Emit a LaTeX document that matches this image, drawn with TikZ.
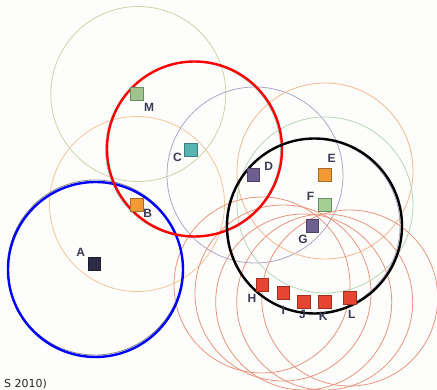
\documentclass[tikz,border=0pt]{standalone}
\usepackage{fontspec}
\setmainfont{Liberation Sans}
\newfontfamily\capfont{DejaVu Sans}
\definecolor{bg}{HTML}{FDFDFB}
\definecolor{cM}{HTML}{CDD4A8}
\definecolor{cB}{HTML}{F2C69A}
\definecolor{cD}{HTML}{AEA6C8}
\definecolor{cE}{HTML}{F3B890}
\definecolor{cF}{HTML}{B8D6B8}
\definecolor{cR}{HTML}{E9957E}
\definecolor{cC}{HTML}{9FD3D0}
\definecolor{cA}{HTML}{8A8A8A}
\definecolor{fM}{HTML}{9CC48C}
\definecolor{fC}{HTML}{58B4B2}
\definecolor{fO}{HTML}{F29A35}
\definecolor{fA}{HTML}{2B2B45}
\definecolor{fP}{HTML}{6D5F8F}
\definecolor{fF}{HTML}{A3CF94}
\definecolor{fR}{HTML}{E64532}
\definecolor{lab}{HTML}{3A3A55}
\tikzset{
  thin ring/.style={draw=#1, line width=0.8pt},
  bold ring/.style={draw=#1, line width=2.4pt},
  pt/.style={draw=#1!70!black, line width=0.5pt, minimum size=12.5pt, inner sep=0pt, rectangle},
  lbl/.style={text=lab, font=\bfseries\fontsize{12}{12}\selectfont, inner sep=0pt}
}
\begin{document}
\begin{tikzpicture}[x=1pt,y=-1pt]
\clip (0,0) rectangle (437,390);
\fill[bg] (0,0) rectangle (437,390);
% thin circles
\draw[thin ring=cM] (138.3,94) circle (87.5);
\draw[thin ring=cB] (137,204) circle (87.5);
\draw[thin ring=cD] (255,175) circle (88);
\draw[thin ring=cE] (325,171) circle (88);
\draw[thin ring=cF] (325,205) circle (88);
\draw[thin ring=cC] (193,149.5) circle (87.5);
\draw[thin ring=cD] (313,226) circle (87);
\draw[thin ring=cA] (95,267.5) circle (87.5);
\draw[thin ring=cR] (262,285) circle (88);
\draw[thin ring=cR] (283,293) circle (88);
\draw[thin ring=cR] (303.7,302) circle (88);
\draw[thin ring=cR] (324.7,302) circle (88);
\draw[thin ring=cR] (349.7,298) circle (88);
% bold circles
\draw[bold ring=blue] (95.5,269.5) circle (87.5);
\draw[bold ring=red] (194.5,149) circle (87.5);
\draw[bold ring=black] (314.5,226) circle (87.5);
% points
\node[pt=fM, fill=fM] (M) at (136.7,94) {};
\node[pt=fC, fill=fC] (C) at (190.7,150) {};
\node[pt=fO, fill=fO] (B) at (136.7,205) {};
\node[pt=fA, fill=fA] (A) at (94.3,264) {};
\node[pt=fP, fill=fP] (D) at (253.3,175) {};
\node[pt=fO, fill=fO] (E) at (324.7,175) {};
\node[pt=fF, fill=fF] (F) at (324.7,205) {};
\node[pt=fP, fill=fP] (G) at (312.3,226) {};
\node[pt=fR, fill=fR] (H) at (262,285) {};
\node[pt=fR, fill=fR] (I) at (283,293) {};
\node[pt=fR, fill=fR] (J) at (303.7,302) {};
\node[pt=fR, fill=fR] (K) at (324.7,302) {};
\node[pt=fR, fill=fR] (L) at (349.7,298) {};
% labels
\node[lbl] (lM) at (149,107) {M};
\node[lbl] (lC) at (177.5,157.7) {C};
\node[lbl] (lB) at (147.8,213) {B};
\node[lbl] (lA) at (80.8,252) {A};
\node[lbl] (lD) at (268.8,166.7) {D};
\node[lbl] (lE) at (331.7,158) {E};
\node[lbl] (lF) at (310.5,196) {F};
\node[lbl] (lG) at (303,239) {G};
\node[lbl] (lH) at (252,298) {H};
\node[lbl] (lI) at (283.3,310) {I};
\node[lbl] (lJ) at (302.5,314.7) {J};
\node[lbl] (lK) at (323.3,316.7) {K};
\node[lbl] (lL) at (351.7,314.7) {L};
% caption fragment
\node[anchor=base west, inner sep=0pt, font=\capfont\fontsize{11}{11}\selectfont, text=black!85] (cap) at (4,387.3) {S 2010)};
\end{tikzpicture}
\end{document}
